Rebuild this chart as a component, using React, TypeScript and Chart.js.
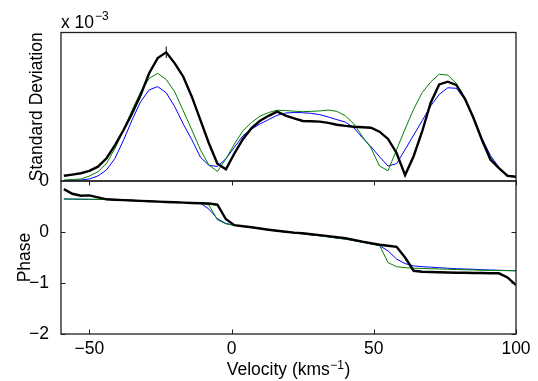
import React, { useEffect, useRef } from 'react';
import { Chart, registerables } from 'chart.js';

Chart.register(...registerables);

// Velocity grid (km/s)
const velocity = [
  -59, -56, -53, -50, -47, -44, -41, -38, -35, -32,
  -29, -26, -23, -20, -17, -14, -11, -8, -5, -2,
  1, 4, 7, 10, 13, 16, 19, 22, 25, 28,
  31, 34, 37, 40, 43, 46, 49, 52, 55, 58,
  61, 64, 67, 70, 73, 76, 79, 82, 85, 88,
  91, 94, 97, 100,
];

// Standard deviation (x 10^-3)
const stdBlack = [
  0.032, 0.039, 0.047, 0.061, 0.087, 0.138, 0.218, 0.309, 0.41, 0.521,
  0.653, 0.745, 0.78, 0.713, 0.632, 0.511, 0.37, 0.229, 0.105, 0.071,
  0.168, 0.255, 0.32, 0.365, 0.395, 0.42, 0.396, 0.38, 0.364, 0.362,
  0.36, 0.352, 0.341, 0.334, 0.329, 0.326, 0.323, 0.299, 0.255, 0.17,
  0.036, 0.15, 0.3, 0.475, 0.585, 0.602, 0.582, 0.5, 0.385, 0.25,
  0.13, 0.078, 0.031, 0.026,
];
const stdGreen = [
  0.006, 0.009, 0.012, 0.03, 0.056, 0.107, 0.198, 0.309, 0.43, 0.541,
  0.622, 0.653, 0.615, 0.54, 0.425, 0.31, 0.19, 0.097, 0.058, 0.135,
  0.225, 0.305, 0.355, 0.393, 0.415, 0.429, 0.427, 0.423, 0.42, 0.422,
  0.425, 0.43, 0.422, 0.395, 0.345, 0.27, 0.2, 0.091, 0.062, 0.19,
  0.315, 0.435, 0.535, 0.6, 0.647, 0.642, 0.592, 0.5, 0.375, 0.25,
  0.145, 0.078, 0.033, 0.026,
];
const stdBlue = [
  0.002, 0.004, 0.006, 0.012, 0.031, 0.067, 0.138, 0.248, 0.37, 0.481,
  0.552, 0.572, 0.535, 0.45, 0.345, 0.25, 0.145, 0.095, 0.088, 0.135,
  0.205, 0.275, 0.315, 0.346, 0.372, 0.398, 0.412, 0.415, 0.414, 0.41,
  0.402, 0.388, 0.372, 0.357, 0.322, 0.262, 0.208, 0.147, 0.091, 0.105,
  0.19, 0.278, 0.365, 0.455, 0.525, 0.565, 0.562, 0.495, 0.385, 0.26,
  0.155, 0.083, 0.036, 0.026,
];

// Phase
const phaseBlack = [
  0.84, 0.75, 0.712, 0.719, 0.68, 0.641, 0.632, 0.625, 0.617, 0.61,
  0.603, 0.596, 0.589, 0.582, 0.576, 0.57, 0.564, 0.558, 0.535, 0.25,
  0.135, 0.112, 0.092, 0.068, 0.045, 0.025, 0.005, -0.012, -0.025, -0.045,
  -0.062, -0.08, -0.1, -0.12, -0.155, -0.19, -0.22, -0.25, -0.27, -0.29,
  -0.5, -0.76, -0.78, -0.785, -0.79, -0.795, -0.8, -0.8, -0.805, -0.805,
  -0.81, -0.81, -0.89, -1.04,
];
const phaseGreen = [
  0.647, 0.645, 0.643, 0.641, 0.639, 0.636, 0.632, 0.626, 0.62, 0.614,
  0.607, 0.6, 0.593, 0.586, 0.578, 0.572, 0.566, 0.53, 0.24, 0.16,
  0.13, 0.11, 0.09, 0.065, 0.04, 0.02, 0.0, -0.02, -0.035, -0.055,
  -0.075, -0.095, -0.12, -0.14, -0.17, -0.2, -0.23, -0.26, -0.6, -0.68,
  -0.7, -0.71, -0.715, -0.72, -0.725, -0.73, -0.735, -0.74, -0.745, -0.75,
  -0.752, -0.755, -0.758, -0.76,
];
const phaseBlue = [
  0.647, 0.645, 0.643, 0.641, 0.639, 0.636, 0.632, 0.626, 0.62, 0.614,
  0.607, 0.6, 0.593, 0.586, 0.578, 0.572, 0.566, 0.45, 0.26, 0.168,
  0.13, 0.108, 0.088, 0.064, 0.04, 0.02, 0.0, -0.02, -0.035, -0.055,
  -0.075, -0.095, -0.12, -0.14, -0.17, -0.2, -0.23, -0.268, -0.37, -0.53,
  -0.62, -0.665, -0.68, -0.69, -0.7, -0.71, -0.72, -0.725, -0.73, -0.74,
  -0.745, -0.75, -0.755, -0.76,
];

// Error bar on the black peak
const errVelocity = [-23];
const errLow = [0.745];
const errHigh = [0.815];

const xTicks = [-50, 0, 50, 100];
const phaseTicks = [-2, -1, 0];
const stdTicks = [0];

const FONT = '"Liberation Sans", Arial, Helvetica, sans-serif';
const FS = 17.5;

export default function App() {
  const ref = useRef<HTMLCanvasElement>(null);

  useEffect(() => {
    if (!ref.current) return;
    const toXY = (ys: number[]) => ys.map((y, i) => ({ x: velocity[i], y }));

    const boxPlugin = {
      id: 'matlabBox',
      afterDatasetsDraw(chart: any) {
        const ctx = chart.ctx as CanvasRenderingContext2D;
        const x = chart.scales.x;
        const yS = chart.scales.yStd;
        const yP = chart.scales.yPhase;
        ctx.save();
        // error bars
        ctx.strokeStyle = '#000';
        ctx.lineWidth = 1;
        ctx.beginPath();
        errVelocity.forEach((v, i) => {
          const px = x.getPixelForValue(v);
          ctx.moveTo(px, yS.getPixelForValue(errLow[i]));
          ctx.lineTo(px, yS.getPixelForValue(errHigh[i]));
        });
        ctx.stroke();

        // boxes
        ctx.strokeStyle = '#1e1e1e';
        ctx.lineWidth = 1.3;
        const L = x.left, R = x.right;
        ctx.strokeRect(L, yS.top, R - L, yS.bottom - yS.top);
        ctx.strokeRect(L, yP.top, R - L, yP.bottom - yP.top);
        // ticks (inward)
        const tl = 4.5;
        ctx.lineWidth = 1;
        ctx.beginPath();
        xTicks.forEach((v) => {
          const px = Math.round(x.getPixelForValue(v)) + 0.5;
          ctx.moveTo(px, yP.bottom);
          ctx.lineTo(px, yP.bottom - tl);
          ctx.moveTo(px, yP.top);
          ctx.lineTo(px, yP.top + tl);
        });
        phaseTicks.forEach((v) => {
          const py = Math.round(yP.getPixelForValue(v)) + 0.5;
          ctx.moveTo(L, py);
          ctx.lineTo(L + tl, py);
          ctx.moveTo(R, py);
          ctx.lineTo(R - tl, py);
        });
        ctx.stroke();

        // texts
        ctx.fillStyle = '#000';
        ctx.textBaseline = 'alphabetic';
        // exponent label
        ctx.font = `${FS}px ${FONT}`;
        ctx.textAlign = 'left';
        const base = 'x 10';
        ctx.fillText(base, L, 28);
        const bw = ctx.measureText(base).width;
        ctx.font = `12px ${FONT}`;
        ctx.fillText('\u22123', L + bw + 1, 20);

        // y titles
        ctx.font = `${FS}px ${FONT}`;
        ctx.textAlign = 'center';
        ctx.save();
        ctx.translate(42, (yS.top + yS.bottom) / 2);
        ctx.rotate(-Math.PI / 2);
        ctx.fillText('Standard Deviation', 0, 0);
        ctx.restore();
        ctx.save();
        ctx.translate(30, (yP.top + yP.bottom) / 2);
        ctx.rotate(-Math.PI / 2);
        ctx.fillText('Phase', 0, 0);
        ctx.restore();

        // x title with superscript
        const t1 = 'Velocity (kms';
        const t2 = '\u22121';
        const t3 = ')';
        ctx.font = `${FS}px ${FONT}`;
        const w1 = ctx.measureText(t1).width;
        const w3 = ctx.measureText(t3).width;
        ctx.font = `12px ${FONT}`;
        const w2 = ctx.measureText(t2).width;
        const total = w1 + w2 + w3 + 1;
        const sx = (L + R) / 2 - total / 2;
        const by = 375;
        ctx.textAlign = 'left';
        ctx.font = `${FS}px ${FONT}`;
        ctx.fillText(t1, sx, by);
        ctx.font = `12px ${FONT}`;
        ctx.fillText(t2, sx + w1 + 0.5, by - 6);
        ctx.font = `${FS}px ${FONT}`;
        ctx.fillText(t3, sx + w1 + w2 + 1, by);
        ctx.restore();
      },
    };

    const chart = new Chart(ref.current, {
      type: 'line',
      data: {
        datasets: [
          { label: 'std black', data: toXY(stdBlack), yAxisID: 'yStd', borderColor: '#000000', borderWidth: 2.4, pointRadius: 0, tension: 0 },
          { label: 'std green', data: toXY(stdGreen), yAxisID: 'yStd', borderColor: '#008000', borderWidth: 1, pointRadius: 0, tension: 0 },
          { label: 'std blue', data: toXY(stdBlue), yAxisID: 'yStd', borderColor: '#0000ff', borderWidth: 1, pointRadius: 0, tension: 0 },
          { label: 'phase black', data: toXY(phaseBlack), yAxisID: 'yPhase', borderColor: '#000000', borderWidth: 2.4, pointRadius: 0, tension: 0 },
          { label: 'phase green', data: toXY(phaseGreen), yAxisID: 'yPhase', borderColor: '#008000', borderWidth: 1, pointRadius: 0, tension: 0 },
          { label: 'phase blue', data: toXY(phaseBlue), yAxisID: 'yPhase', borderColor: '#0000ff', borderWidth: 1, pointRadius: 0, tension: 0 },
        ],
      },
      options: {
        animation: false,
        responsive: false,
        devicePixelRatio: 1,
        layout: { padding: { left: 0, right: 22, top: 32.5, bottom: 0 } },
        plugins: { legend: { display: false }, tooltip: { enabled: false } },
        scales: {
          x: {
            type: 'linear',
            min: -60,
            max: 100,
            afterBuildTicks: (s: any) => { s.ticks = xTicks.map((v) => ({ value: v })); },
            afterFit: (s: any) => { s.height = 47; },
            grid: { display: false },
            border: { display: false },
            ticks: {
              font: { family: FONT, size: FS },
              color: '#000',
              padding: -3,
              maxRotation: 0,
              autoSkip: false,
              callback: (v: any) => (Number(v) < 0 ? '\u2212' + Math.abs(Number(v)) : String(v)),
            },
          },
          yPhase: {
            type: 'linear',
            position: 'left',
            stack: 'panels',
            stackWeight: 153,
            min: -2,
            max: 1,
            afterBuildTicks: (s: any) => { s.ticks = phaseTicks.map((v) => ({ value: v })); },
            afterFit: (s: any) => { s.width = 61; },
            grid: { display: false },
            border: { display: false },
            ticks: {
              font: { family: FONT, size: FS },
              color: '#000',
              padding: 4,
              autoSkip: false,
              callback: (v: any) => (Number(v) < 0 ? '\u2212' + Math.abs(Number(v)) : String(v)),
            },
          },
          yStd: {
            type: 'linear',
            position: 'left',
            stack: 'panels',
            stackWeight: 148.5,
            min: 0,
            max: 0.9,
            afterBuildTicks: (s: any) => { s.ticks = stdTicks.map((v) => ({ value: v })); },
            afterFit: (s: any) => { s.width = 61; },
            grid: { display: false },
            border: { display: false },
            ticks: {
              font: { family: FONT, size: FS },
              color: '#000',
              padding: 4,
              autoSkip: false,
              callback: (v: any) => String(v),
            },
          },
        },
      },
      plugins: [boxPlugin],
    });

    return () => chart.destroy();
  }, []);

  return (
    <div style={{ position: 'fixed', left: 0, top: 0, width: 538, height: 381, background: '#fff' }}>
      <canvas ref={ref} width={538} height={381} style={{ display: 'block', width: 538, height: 381 }} />
    </div>
  );
}
